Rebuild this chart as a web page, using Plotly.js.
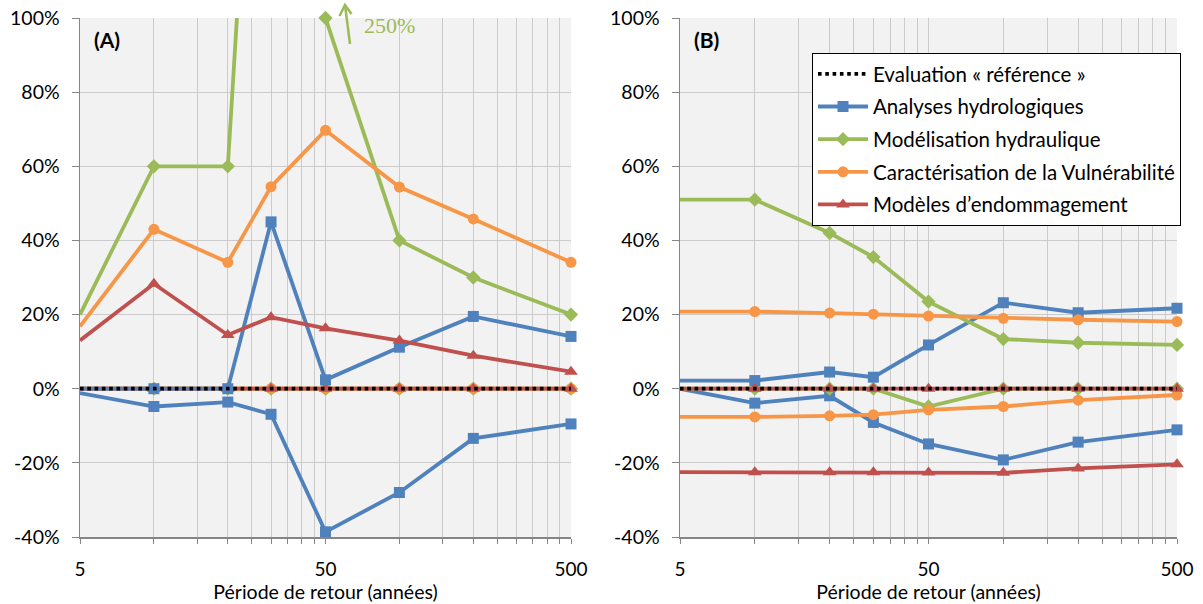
<!DOCTYPE html>
<html>
<head>
<meta charset="utf-8">
<script src="https://cdn.plot.ly/plotly-3.0.1.min.js"></script>
<style>html,body{margin:0;padding:0;background:#fff;}#chart{width:1203px;height:604px;}</style>
</head>
<body>
<div id="chart"></div>
<script>
// ---- data ----
const returnPeriods = [5, 10, 20, 30, 50, 100, 200, 500];

const seriesNames = [
  'Evaluation « référence »',
  'Analyses hydrologiques',
  'Modélisation hydraulique',
  'Caractérisation de la Vulnérabilité',
  'Modèles d’endommagement'
];

// Panel (A) – values in %
const aReference   = [0, 0, 0, 0, 0, 0, 0, 0];
const aHydroHigh   = [0, 0, 0, 45, 2.4, 11.2, 19.5, 14.1];
const aHydroLow    = [-1.2, -4.8, -3.6, -6.9, -38.6, -28, -13.4, -9.5];
const aHydrauHigh  = [20, 60, 60, 250, 100, 40, 30, 20];
const aHydrauLow   = [0, 0, 0, 0, 0, 0, 0, 0];
const aVulnHigh    = [16.8, 43, 34.1, 54.5, 69.7, 54.4, 45.8, 34.1];
const aVulnLow     = [0, 0, 0, 0, 0, 0, 0, 0];
const aDamageHigh  = [13, 28.3, 14.5, 19.3, 16.3, 13, 8.9, 4.6];
const aDamageLow   = [0, 0, 0, 0, 0, 0, 0, 0];

// Panel (B) – values in %
const bReference   = [0, 0, 0, 0, 0, 0, 0, 0];
const bHydroHigh   = [2.2, 2.2, 4.5, 3.1, 11.8, 23.2, 20.5, 21.7];
const bHydroLow    = [0, -3.9, -1.9, -9.1, -14.9, -19.2, -14.4, -11.1];
const bHydrauHigh  = [51, 51, 42, 35.5, 23.5, 13.4, 12.4, 11.8];
const bHydrauLow   = [0, 0, 0, 0, -4.8, 0, 0, 0];
const bVulnHigh    = [20.8, 20.8, 20.4, 20.1, 19.6, 19, 18.6, 18.1];
const bVulnLow     = [-7.6, -7.6, -7.3, -7, -5.7, -4.8, -3.1, -1.7];
const bDamageHigh  = [0, 0, 0, 0, 0, 0, 0, 0];
const bDamageLow   = [-22.5, -22.5, -22.5, -22.5, -22.6, -22.7, -21.5, -20.4];

// axis ticks
const xGridVals   = [5, 10, 15, 20, 25, 30, 35, 40, 45, 50, 100, 150, 200, 250, 300, 350, 400, 450, 500];
const xGridLabels = ['5', '', '', '', '', '', '', '', '', '50', '', '', '', '', '', '', '', '', '500'];
const yTickVals   = [-40, -20, 0, 20, 40, 60, 80, 100];
const yTickLabels = ['-40%', '-20%', '0%', '20%', '40%', '60%', '80%', '100%'];

const annotationLabel = '250%';
const panelLabels = ['(A)', '(B)'];

// ---- styles ----
const FONT = 'Lato, "Open Sans", sans-serif';
const styles = [
  {color: '#000000', symbol: null, size: 0},
  {color: '#4F81BD', symbol: 'square', size: 11},
  {color: '#9BBB59', symbol: 'diamond', size: 11},
  {color: '#F79646', symbol: 'circle', size: 11},
  {color: '#C0504D', symbol: 'triangle-up', size: 12}
];

function lineTrace(xa, ya, yvals, idx, showlegend) {
  const st = styles[idx];
  return {
    type: 'scatter', mode: 'lines+markers',
    x: returnPeriods, y: yvals, xaxis: xa, yaxis: ya,
    name: seriesNames[idx], legendgroup: 'g' + idx, legendrank: idx + 1,
    showlegend: showlegend, cliponaxis: false,
    line: {color: st.color, width: 3.8},
    marker: {color: st.color, symbol: st.symbol, size: st.size},
    hoverinfo: 'skip'
  };
}
function refTrace(xa, ya, yvals, showlegend) {
  return {
    type: 'scatter', mode: 'lines',
    x: returnPeriods, y: yvals, xaxis: xa, yaxis: ya,
    name: seriesNames[0], legendgroup: 'g0', legendrank: 0,
    showlegend: showlegend,
    line: {color: '#000000', width: 3.8, dash: '3.6px,3.7px'},
    hoverinfo: 'skip'
  };
}

const panels = [
  {xa: 'x', ya: 'y', d: [aReference, aHydroHigh, aHydroLow, aHydrauHigh, aHydrauLow, aVulnHigh, aVulnLow, aDamageHigh, aDamageLow], legend: false},
  {xa: 'x2', ya: 'y2', d: [bReference, bHydroHigh, bHydroLow, bHydrauHigh, bHydrauLow, bVulnHigh, bVulnLow, bDamageHigh, bDamageLow], legend: true}
];

const traces = [];
panels.forEach(p => {
  const d = p.d;
  for (let s = 1; s <= 4; s++) {
    traces.push(lineTrace(p.xa, p.ya, d[2 * s], s, false));
  }
  for (let s = 1; s <= 4; s++) {
    traces.push(lineTrace(p.xa, p.ya, d[2 * s - 1], s, p.legend));
  }
  traces.push(refTrace(p.xa, p.ya, d[0], p.legend));
});

function xAxis(domain, anchor) {
  return {
    type: 'log', domain: domain, anchor: anchor,
    range: [Math.log10(5), Math.log10(500)],
    tickmode: 'array', tickvals: xGridVals, ticktext: xGridLabels,
    ticks: 'outside', ticklen: 5, tickwidth: 1, tickcolor: '#868686',
    ticklabelstandoff: 10,
    showline: true, linecolor: '#868686', linewidth: 1.5,
    showgrid: true, gridcolor: '#cbcbcb', gridwidth: 1,
    zeroline: false,
    tickfont: {family: FONT, size: 19, color: '#000'},
    title: {text: 'Période de retour (années)', font: {family: FONT, size: 19.5, color: '#000'}, standoff: 3},
    fixedrange: true
  };
}
function yAxis(anchor) {
  return {
    anchor: anchor, range: [-40, 100],
    tickmode: 'array', tickvals: yTickVals, ticktext: yTickLabels,
    ticks: 'outside', ticklen: 7, tickwidth: 1, tickcolor: '#868686',
    ticklabelstandoff: 8,
    showline: true, linecolor: '#868686', linewidth: 1.5,
    showgrid: true, gridcolor: '#cbcbcb', gridwidth: 1,
    zeroline: false,
    tickfont: {family: FONT, size: 19.5, color: '#000'},
    fixedrange: true
  };
}

const W = 1203, H = 604, mT = 18, mB = 67;
const plotH = H - mT - mB;
const px2x = px => px / W;
const px2y = py => (H - mB - py) / plotH;

const layout = {
  width: W, height: H,
  margin: {l: 0, r: 0, t: mT, b: mB},
  paper_bgcolor: '#ffffff', plot_bgcolor: '#f2f2f2',
  font: {family: FONT, color: '#000'},
  xaxis: xAxis([80 / W, 571 / W], 'y'),
  yaxis: yAxis('x'),
  xaxis2: xAxis([680 / W, 1177 / W], 'y2'),
  yaxis2: yAxis('x2'),
  showlegend: true,
  legend: {
    x: px2x(812), y: px2y(53), xanchor: 'left', yanchor: 'top',
    bgcolor: '#ffffff', bordercolor: '#000000', borderwidth: 1,
    font: {family: FONT, size: 20.5, color: '#000'},
    traceorder: 'grouped', tracegroupgap: 3, itemwidth: 50
  },
  annotations: [
    {xref: 'paper', yref: 'paper', x: px2x(92), y: px2y(39), xanchor: 'left', yanchor: 'middle',
     text: '<b>' + panelLabels[0] + '</b>', showarrow: false, font: {family: FONT, size: 21, color: '#000'}},
    {xref: 'paper', yref: 'paper', x: px2x(692), y: px2y(39), xanchor: 'left', yanchor: 'middle',
     text: '<b>' + panelLabels[1] + '</b>', showarrow: false, font: {family: FONT, size: 21, color: '#000'}},
    {xref: 'paper', yref: 'paper', x: px2x(362), y: px2y(25), xanchor: 'left', yanchor: 'middle',
     text: annotationLabel, showarrow: false, font: {family: '"Liberation Serif", serif', size: 22, color: '#9BBB59'}}
  ],
  shapes: [
    {type: 'path', xref: 'paper', yref: 'paper',
     path: 'M' + px2x(350) + ',' + px2y(44) + ' L' + px2x(345) + ',' + px2y(5),
     line: {color: '#9BBB59', width: 2.5}},
    {type: 'path', xref: 'paper', yref: 'paper',
     path: 'M' + px2x(339.5) + ',' + px2y(16) + ' L' + px2x(345) + ',' + px2y(5) + ' L' + px2x(351.5) + ',' + px2y(14),
     line: {color: '#9BBB59', width: 2.5}}
  ]
};

Plotly.newPlot('chart', traces, layout, {staticPlot: true, displayModeBar: false});
</script>
</body>
</html>
